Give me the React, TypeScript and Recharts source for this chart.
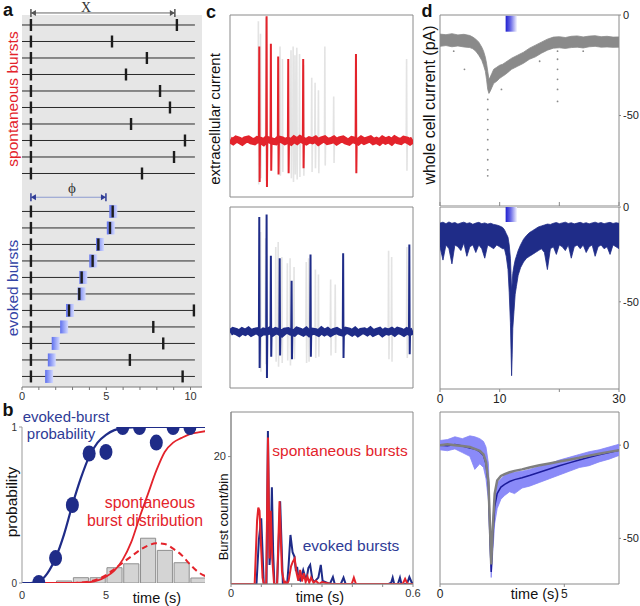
import React from 'react'
import {
  ComposedChart,
  Line,
  Area,
  Bar,
  Scatter,
  XAxis,
  YAxis,
  CartesianGrid,
  ReferenceLine,
  ReferenceArea,
  ReferenceDot,
} from 'recharts'

const FONT = 'Arial, "Liberation Sans", Helvetica, sans-serif'
const RED = '#e3232b'
const NAVY = '#1f2c88'
const BLUE_TXT = '#2e3b96'
const FRAME = '#8a8a8a'

// a: burst raster (times in s)
const spontBurstT = [9.19, 5.34, 7.41, 6.17, 8.19, 8.78, 6.47, 9.67, 9.02, 7.12]
const evokedStimT = [5.42, 5.27, 4.63, 4.23, 3.64, 3.54, 2.85, 2.5, 2.0, 1.77, 1.61]
const evokedBurstT = [[5.38], [5.22], [4.53], [4.19], [3.54], [3.4], [2.79, 10.2], [7.79], [8.38], [6.4], [9.53]]
const stimOnset = 0.53
const xArrowEnd = 9.07
const phiArrowEnd = 4.98
const rasterTicks = [0, 1, 2, 3, 4, 5, 6, 7, 8, 9, 10]

// b: probabilities
const probT = [1, 2, 3, 4, 5, 6, 7, 8, 9, 10]
const evokedProb = [0, 0.16, 0.5, 0.83, 0.84, 1, 1, 0.9, 1, 1]
const fitT = [0, 0.5, 1, 1.5, 2, 2.5, 3, 3.5, 4, 4.5, 5, 5.5, 6, 7, 8, 9, 10, 11]
const evokedFit = [0, 0, 0.01, 0.06, 0.16, 0.31, 0.5, 0.67, 0.81, 0.9, 0.95, 0.98, 0.99, 1, 1, 1, 1, 1]
const spontCdfT = [0, 3, 4, 5, 5.5, 6, 6.5, 7, 7.5, 8, 8.5, 9, 9.5, 10, 10.5, 11]
const spontCdf = [0, 0, 0.005, 0.04, 0.08, 0.15, 0.26, 0.42, 0.57, 0.72, 0.84, 0.9, 0.93, 0.955, 0.965, 0.975]
const spontPdfT = [0, 3, 4, 4.5, 5, 5.5, 6, 6.5, 7, 7.5, 8, 8.5, 9, 9.5, 10, 10.5, 11]
const spontPdf = [0, 0, 0.01, 0.025, 0.05, 0.09, 0.13, 0.17, 0.21, 0.24, 0.255, 0.25, 0.22, 0.18, 0.12, 0.07, 0.04]
const histBinT = [2.5, 3.5, 4.5, 5.5, 6.5, 7.5, 8.5, 9.5, 10.5]
const histFrac = [0.013, 0.034, 0.034, 0.098, 0.123, 0.287, 0.209, 0.13, 0.032]

// c: extracellular traces
const redNoise = [
  0.05, -0.08, 0.1, 0.02, -0.12, 0.06, 0.12, -0.04, -0.1, 0.08,
  0.02, -0.14, 0.1, 0.04, -0.06, -0.1, 0.12, 0.06, -0.08, 0.02,
  -0.12, 0.1, -0.06, 0.14, 0.02, -0.1, 0.06, -0.02, 0.1, -0.12,
  0.04, 0.12, -0.08, -0.02, 0.1, -0.1, 0.06, 0.12, -0.04, -0.12,
  0.08, 0.02, -0.1, 0.1, -0.06, 0.04, 0.12, -0.08, 0.02, -0.12,
  0.1, -0.04, 0.06, -0.1, 0.12, -0.02, -0.08, 0.1, 0.04, -0.1, 0.06,
]
const blueNoise = [
  -0.06, 0.1, 0.02, -0.12, 0.08, -0.04, 0.12, -0.1, 0.04, 0.08,
  -0.12, 0.06, -0.02, 0.12, -0.08, 0.1, 0.02, -0.14, 0.06, 0.1,
  -0.04, -0.1, 0.12, 0.04, -0.08, 0.1, -0.12, 0.06, 0.02, -0.1,
  0.12, -0.06, 0.08, -0.12, 0.02, 0.1, -0.04, -0.1, 0.12, 0.06,
  -0.08, 0.1, -0.12, 0.04, 0.08, -0.06, 0.12, -0.1, 0.02, 0.1,
  -0.12, 0.06, -0.02, 0.1, -0.08, 0.12, 0.04, -0.1, 0.08, -0.04, 0.06,
]
const noiseStep = 0.01
const redSpikeT = [0.096, 0.12, 0.134, 0.158, 0.191, 0.24, 0.413]
const redSpikeUp = [7.5, 9.9, 7.7, 6.7, 6.5, 6.5, 6.9]
const redSpikeDown = [-3.3, -3.7, -2.4, -2.7, -2.6, -2.2, -2.6]
const blueSpikeT = [0.096, 0.12, 0.134, 0.163, 0.202, 0.264, 0.371, 0.588]
const blueSpikeUp = [9.2, 9.4, 6.1, 5.9, 4.1, 6.2, 6.3, 7.0]
const blueSpikeDown = [-2.9, -3.7, -2.0, -1.9, -2.2, -2.0, -2.1, -1.8]
const ghostT1 = [0.093, 0.1, 0.118, 0.164, 0.172, 0.2, 0.207, 0.213, 0.219, 0.228, 0.241, 0.268, 0.279, 0.29, 0.311, 0.34, 0.579]
const ghostUp1 = [9.5, 8.5, 9.8, 7.5, 6.5, 7.2, 7.5, 6.8, 7.4, 6.9, 6.0, 5.0, 4.6, 4.0, 7.5, 3.5, 6.5]
const ghostDown1 = [-3.5, -3.0, -3.2, -2.8, -2.5, -3, -3.3, -2.7, -3.1, -2.9, -2.8, -2.5, -2.2, -2.6, -2.0, -1.8, -2.4]
const ghostT2 = [0.1, 0.117, 0.15, 0.158, 0.17, 0.188, 0.197, 0.21, 0.25, 0.258, 0.28, 0.29, 0.33, 0.345, 0.52, 0.53, 0.58]
const ghostUp2 = [8, 7.5, 6.8, 7.2, 6.0, 5.5, 5.9, 5.2, 5.6, 5.9, 5.0, 4.6, 4.2, 3.8, 6.5, 6.0, 6.8]
const ghostDown2 = [-3.2, -2.6, -2.4, -2.8, -2.5, -2.3, -2.7, -2.2, -2.5, -2.4, -2.1, -2, -1.9, -1.7, -2.2, -2.4, -2.1]

// c: burst histograms
const redHistT = [0, 0.078, 0.086, 0.09, 0.094, 0.099, 0.104, 0.108, 0.116, 0.122, 0.127, 0.131, 0.136, 0.142, 0.152, 0.16, 0.168, 0.176, 0.18, 0.185, 0.19, 0.198, 0.204, 0.21, 0.216, 0.222, 0.228, 0.234, 0.24, 0.246, 0.252, 0.258, 0.264, 0.272, 0.28, 0.29, 0.3, 0.33, 0.398, 0.405, 0.412, 0.5, 0.566, 0.574, 0.582, 0.6]
const redHist = [0, 0, 10, 12, 11.5, 6, 1, 0, 0, 23, 4, 11.5, 4, 0, 0, 13, 2, 0, 0.3, 0, 0.5, 2.8, 3.5, 4, 1.8, 0.5, 2.2, 0.4, 1.7, 0.3, 1.2, 0.2, 1, 0.2, 0.5, 0, 0.3, 0, 0, 1, 0, 0, 0, 0.8, 0, 0]
const blueHistT = [0, 0.084, 0.092, 0.0997, 0.104, 0.108, 0.117, 0.1217, 0.127, 0.131, 0.1348, 0.139, 0.143, 0.152, 0.162, 0.171, 0.185, 0.19, 0.196, 0.203, 0.209, 0.214, 0.218, 0.222, 0.228, 0.238, 0.248, 0.255, 0.261, 0.268, 0.274, 0.288, 0.296, 0.302, 0.326, 0.336, 0.342, 0.362, 0.371, 0.378, 0.52, 0.528, 0.533, 0.538, 0.55, 0.557, 0.562, 0.58, 0.588, 0.596, 0.6]
const blueHist = [0, 0, 7, 10.3, 5, 0, 0, 24, 3, 6, 15.2, 5, 0, 0, 13, 0, 0, 3, 7.7, 5, 4.3, 2, 2.7, 1, 0.6, 2.2, 0.5, 2.5, 3, 0.8, 0.3, 1, 3, 0.5, 0, 1.1, 0, 0, 1, 0, 0, 0.2, 1, 0, 0, 1, 0, 0, 1.1, 0.2, 0]

// d: whole cell currents (pA)
const d1T = [0, 1, 2, 3, 4, 5, 5.5, 6, 6.5, 7, 7.3, 7.6, 7.8, 8, 8.2, 8.4, 8.7, 9, 9.5, 10, 10.5, 11, 12, 13, 14, 15, 16, 17, 18, 19, 20, 21, 22, 23, 24, 25, 26, 27, 28, 29, 30]
const d1Hi = [-9.5, -9.8, -9.3, -9.9, -9.6, -10.2, -11, -12, -13.5, -16, -18, -21, -24, -28, -32, -31, -29, -27, -26, -25, -24.5, -23.5, -21.5, -20, -18.5, -16.5, -15, -13.5, -12, -11, -10.8, -11.2, -10.6, -10.4, -10.9, -10.5, -10.3, -10.8, -10.6, -11, -10.9]
const d1Lo = [-15.6, -15.2, -15.8, -15.4, -15.9, -16.2, -16.8, -18, -20, -22.5, -25, -28, -32, -37, -39, -38, -36, -34, -33, -31.5, -30.5, -29.5, -27, -25.5, -24, -22, -20.8, -19, -17.5, -16.5, -16.3, -16.6, -16.2, -16, -16.4, -15.8, -15.6, -16, -15.9, -16.1, -16]
const d1DotT = [8, 8, 8, 8, 8, 8, 8, 8, 8, 19.7, 19.7, 19.7, 19.7, 19.7, 19.7, 4.1, 10.3, 16.7, 2.3, 24]
const d1DotV = [-42, -47, -52, -57, -62, -67, -72, -77, -80, -18, -22, -27, -32, -37, -43, -27, -37, -23, -18, -18]
const d2T = [
  0, 0.5, 1, 1.5, 2, 2.5, 3, 3.5, 4, 4.5, 5, 5.5, 6, 6.5, 7, 7.5, 8, 8.5, 9, 9.5, 10, 10.5,
  10.8, 11.1, 11.4, 11.6, 11.8, 11.9, 12, 12.1, 12.2, 12.4, 12.6, 12.8, 13.1, 13.5,
  14, 14.5, 15, 15.5, 16, 16.5, 17, 17.5, 18, 18.5, 19, 19.5, 20, 20.5, 21, 21.5, 22, 22.5, 23, 23.5, 24, 24.5, 25, 25.5, 26, 26.5, 27, 27.5, 28, 28.5, 29, 29.5, 30,
]
const d2Hi = [
  -8.5, -8, -8.8, -7.9, -8.6, -8.2, -9, -8.4, -8, -8.7, -8.3, -9.1, -8.5, -8.1, -8.8, -8.4, -9, -8.6, -9.2, -9.5, -10, -10.8,
  -12, -14, -16, -20, -27, -35, -44, -40, -35, -31, -28, -26, -23, -20,
  -17, -15, -13.5, -12.5, -11.5, -10.5, -10, -9.5, -9, -9.2, -8.6, -8.2, -8.8, -8.4, -8, -8.7, -8.3, -8.9, -8.5, -8.1, -8.7, -8.3, -8.9, -8.4, -8, -8.6, -8.2, -8.8, -8.4, -8.1, -8.7, -8.3, -8.6,
]
const d2Lo = [
  -21, -28, -20, -22, -30, -20, -21, -23, -19, -26, -21, -20, -24, -20, -22, -27, -20, -21, -22, -20, -21, -22,
  -22, -26, -33, -45, -61, -75, -89, -78, -64, -55, -46, -42, -36, -32,
  -29, -27, -26, -25, -24, -23, -22, -24, -33, -22, -21, -25, -20, -21, -23, -20, -27, -21, -20, -22, -20, -24, -21, -20, -26, -21, -20, -22, -21, -25, -20, -21, -22,
]
const d3T = [0, 0.3, 0.6, 0.9, 1.2, 1.4, 1.6, 1.75, 1.85, 1.95, 2.0, 2.06, 2.12, 2.2, 2.3, 2.45, 2.6, 2.8, 3.0, 3.3, 3.6, 4.0, 4.4, 4.8, 5.2, 5.6, 6.0, 6.4, 6.8, 7.2]
const d3Spont = [0, 0.5, 0, -0.5, -1, -2, -3, -5, -9, -20, -40, -64, -45, -26, -19, -16.5, -15.5, -14.5, -13.8, -13, -12, -10.8, -9.8, -8.8, -7.8, -6.8, -5.6, -4.6, -3.6, -2.7]
const d3Evoked = [0, -0.3, 0.3, -0.5, -1.5, -2, -3.5, -5.5, -10, -22, -45, -68, -50, -33, -26, -22.5, -21, -19.5, -18.5, -17.5, -16.3, -14.5, -12.8, -11, -9.5, -8, -6.5, -5.2, -4, -2.7]
const d3Hi = [2.5, 3, 4.5, 3.5, 5, 4.5, 3.5, 2, -1, -10, -35, -62, -42, -26, -20, -18, -16, -15, -14.5, -14, -13, -11.5, -10, -8, -6.5, -5, -3.5, -2.5, -1, 0.5]
const d3Lo = [-2.5, -3, -2, -4, -6, -13, -10, -12, -18, -30, -52, -71, -58, -42, -34, -29, -27, -25, -26, -23, -22, -20, -18, -16, -14, -12, -11, -9, -7.5, -5.5]

const pts = (ts: number[], vs: number[]) => ts.map((t, i) => ({ t, v: vs[i] }))
const bandPts = (ts: number[], lo: number[], hi: number[]) => ts.map((t, i) => ({ t, band: [lo[i], hi[i]] }))
const noisePts = (vs: number[]) => vs.map((v, i) => ({ t: i * noiseStep, v }))
const spikes = (ts: number[], ups: number[], downs: number[]) =>
  ts.flatMap((t, i) => [
    { t: t - 0.0012, v: 0 },
    { t, v: ups[i] },
    { t: t + 0.0012, v: downs[i] },
    { t: t + 0.0024, v: 0 },
    { t: t + 0.0025, v: null },
  ])

const noAnim = { isAnimationActive: false, dot: false, activeDot: false } as const

const Box: React.FC<{ left: number; top: number; children: React.ReactNode }> = ({ left, top, children }) => (
  <div style={{ position: 'absolute', left, top }}>{children}</div>
)

const Txt: React.FC<{
  x: number
  y: number
  size: number
  color?: string
  rot?: boolean
  bold?: boolean
  serif?: boolean
  children: React.ReactNode
}> = ({ x, y, size, color = '#111', rot, bold, serif, children }) => (
  <div
    style={{
      position: 'absolute',
      left: x,
      top: y,
      transform: `translate(-50%, -50%)${rot ? ' rotate(-90deg)' : ''}`,
      fontSize: size,
      color,
      fontWeight: bold ? 700 : 400,
      fontFamily: serif ? '"Liberation Serif", "DejaVu Serif", serif' : FONT,
      whiteSpace: 'nowrap',
      lineHeight: 1,
    }}
  >
    {children}
  </div>
)

const stimBox = (p: any) => <rect x={p.cx - 4} y={p.cy - 6.5} width={8} height={13} fill="url(#gradA)" />
const burstMark = (p: any) => <rect x={p.cx - 1.2} y={p.cy - 6} width={2.4} height={12} fill="#1c1c1c" />
const probDot = (p: any) => <ellipse cx={p.cx} cy={p.cy} rx={6.5} ry={8} fill={NAVY} />
const tinyDot = (p: any) => <circle cx={p.cx} cy={p.cy} r={0.9} fill="#8a8a8a" />
const arrowEnd = (dir: number, color: string) => (p: any) => (
  <g>
    <line x1={p.cx} x2={p.cx} y1={p.cy - 4} y2={p.cy + 4} stroke={color} strokeWidth={1.5} />
    <path d={`M${p.cx},${p.cy} L${p.cx - dir * 5},${p.cy - 3} L${p.cx - dir * 5},${p.cy + 3} Z`} fill={color} />
  </g>
)

const EVOKED_FIRST_ROW = 12.3
const X_ARROW_ROW = 0.27
const PHI_ARROW_ROW = 11.44

const PanelA = () => {
  const spontRows = spontBurstT.map((_, i) => i + 1)
  const evokedRows = evokedStimT.map((_, i) => EVOKED_FIRST_ROW + i)
  const rows = [...spontRows, ...evokedRows]
  const onsetMarks = rows.map((v) => ({ t: stimOnset, v }))
  const spontMarks = spontBurstT.map((t, i) => ({ t, v: spontRows[i] }))
  const evokedMarks = evokedBurstT.flatMap((ts, i) => ts.map((t) => ({ t, v: evokedRows[i] })))
  const boxes = evokedStimT.map((t, i) => ({ t, v: evokedRows[i] }))
  return (
    <ComposedChart width={204} height={407} margin={{ top: 15, right: 2, bottom: 0, left: 22 }}>
      <defs>
        <linearGradient id="gradA" x1="0" y1="0" x2="1" y2="0">
          <stop offset="0" stopColor="#5e70ee" />
          <stop offset="1" stopColor="#d4daff" />
        </linearGradient>
      </defs>
      <CartesianGrid horizontal={false} vertical={false} fill="#e6e6e6" stroke="none" />
      <XAxis
        type="number"
        dataKey="t"
        domain={[0, 10.68]}
        allowDataOverflow
        ticks={rasterTicks}
        interval={0}
        tickFormatter={(v) => (v % 5 === 0 ? String(v) : '')}
        height={20}
        tickSize={3}
        axisLine={{ stroke: '#777' }}
        tickLine={{ stroke: '#777' }}
        tick={{ fontSize: 11, fill: '#333' }}
      />
      <YAxis hide type="number" dataKey="v" domain={[0.394, 22.94]} reversed allowDataOverflow />
      {rows.map((r) => (
        <ReferenceLine key={r} segment={[{ x: 0, y: r }, { x: 10.26, y: r }]} stroke="#2a2a2a" strokeWidth={1} />
      ))}
      <ReferenceLine
        segment={[{ x: stimOnset, y: X_ARROW_ROW }, { x: xArrowEnd, y: X_ARROW_ROW }]}
        stroke="#666"
        ifOverflow="visible"
      />
      <ReferenceDot x={stimOnset} y={X_ARROW_ROW} r={3} ifOverflow="visible" shape={arrowEnd(-1, '#555')} />
      <ReferenceDot x={xArrowEnd} y={X_ARROW_ROW} r={3} ifOverflow="visible" shape={arrowEnd(1, '#555')} />
      <ReferenceLine
        segment={[{ x: stimOnset, y: PHI_ARROW_ROW }, { x: phiArrowEnd, y: PHI_ARROW_ROW }]}
        stroke="#8d9bd0"
        strokeWidth={1.2}
      />
      <ReferenceDot x={stimOnset} y={PHI_ARROW_ROW} r={3} shape={arrowEnd(-1, BLUE_TXT)} />
      <ReferenceDot x={phiArrowEnd} y={PHI_ARROW_ROW} r={3} shape={arrowEnd(1, BLUE_TXT)} />
      <Scatter data={boxes} shape={stimBox} isAnimationActive={false} />
      <Scatter data={onsetMarks} shape={burstMark} isAnimationActive={false} />
      <Scatter data={spontMarks} shape={burstMark} isAnimationActive={false} />
      <Scatter data={evokedMarks} shape={burstMark} isAnimationActive={false} />
    </ComposedChart>
  )
}

const B_DOMAIN = [0, 10.9]

const PanelB = () => (
  <ComposedChart
    width={207}
    height={189}
    margin={{ top: 15, right: 2, bottom: 0, left: 0 }}
    data={pts(histBinT, histFrac)}
    barCategoryGap={0}
    barGap={0}
  >
    <XAxis
      type="number"
      dataKey="t"
      domain={B_DOMAIN}
      allowDataOverflow
      ticks={[0, 5]}
      height={18}
      axisLine={false}
      tickLine={false}
      tick={{ fontSize: 11, fill: '#333' }}
    />
    <XAxis xAxisId="bins" hide type="number" dataKey="t" domain={B_DOMAIN} allowDataOverflow />
    <YAxis
      type="number"
      dataKey="v"
      domain={[0, 1]}
      allowDataOverflow
      ticks={[0, 1]}
      width={22}
      tickSize={3}
      axisLine={{ stroke: '#999' }}
      tickLine={{ stroke: '#999' }}
      tick={{ fontSize: 10, fill: '#333' }}
    />
    <Bar xAxisId="bins" dataKey="v" barSize={17} fill="#d4d4d4" stroke="#8f8f8f" strokeWidth={1} isAnimationActive={false} />
    <Line data={pts(spontPdfT, spontPdf)} dataKey="v" type="monotone" stroke={RED} strokeWidth={2} strokeDasharray="6 4" {...noAnim} />
    <Line data={pts(spontCdfT, spontCdf)} dataKey="v" type="monotone" stroke={RED} strokeWidth={1.8} {...noAnim} />
    <Line data={pts(fitT, evokedFit)} dataKey="v" type="monotone" stroke={NAVY} strokeWidth={2.2} {...noAnim} />
    <Scatter data={pts(probT, evokedProb)} shape={probDot} isAnimationActive={false} />
  </ComposedChart>
)

const TracePanel: React.FC<{
  height: number
  color: string
  noise: number[]
  spikeT: number[]
  spikeUp: number[]
  spikeDown: number[]
  ghostT: number[]
  ghostUp: number[]
  ghostDown: number[]
}> = (p) => (
  <ComposedChart width={185} height={p.height} margin={{ top: 1, right: 1, bottom: 1, left: 1 }}>
    <XAxis hide type="number" dataKey="t" domain={[0, 0.6]} allowDataOverflow />
    <YAxis hide type="number" dataKey="v" domain={[-4.5, 10]} allowDataOverflow />
    <ReferenceArea x1={0} x2={0.6} y1={-4.5} y2={10} fill="none" stroke={FRAME} />
    <Line data={spikes(p.ghostT, p.ghostUp, p.ghostDown)} dataKey="v" stroke="#dedede" strokeWidth={1.6} strokeOpacity={0.85} {...noAnim} />
    <Line data={noisePts(p.noise)} dataKey="v" stroke={p.color} strokeWidth={7} {...noAnim} />
    <Line data={spikes(p.spikeT, p.spikeUp, p.spikeDown)} dataKey="v" stroke={p.color} strokeWidth={2} {...noAnim} />
  </ComposedChart>
)

const PanelC3 = () => (
  <ComposedChart width={212} height={196} margin={{ top: 6, right: 10, bottom: 0, left: 0 }}>
    <XAxis
      type="number"
      dataKey="t"
      domain={[0, 0.6]}
      allowDataOverflow
      ticks={[0, 0.1, 0.2, 0.3, 0.4, 0.5, 0.6]}
      interval={0}
      tickFormatter={(v) => (v === 0 ? '0' : v === 0.6 ? '0.6' : '')}
      height={18}
      tickSize={3}
      axisLine={{ stroke: FRAME }}
      tickLine={{ stroke: FRAME }}
      tick={{ fontSize: 11, fill: '#333' }}
    />
    <YAxis
      type="number"
      dataKey="v"
      domain={[0, 27]}
      allowDataOverflow
      ticks={[20]}
      width={20}
      tickSize={3}
      axisLine={{ stroke: FRAME }}
      tickLine={{ stroke: FRAME }}
      tick={{ fontSize: 11, fill: '#333' }}
    />
    <ReferenceArea x1={0} x2={0.6} y1={0} y2={27} fill="none" stroke={FRAME} />
    <Line data={pts(blueHistT, blueHist)} dataKey="v" stroke={NAVY} strokeWidth={2} {...noAnim} />
    <Line data={pts(redHistT, redHist)} dataKey="v" stroke={RED} strokeWidth={2} {...noAnim} />
  </ComposedChart>
)

const rightAxis = (domain: number[]) => (
  <YAxis
    orientation="right"
    type="number"
    dataKey="v"
    domain={domain}
    allowDataOverflow
    ticks={[0, -50]}
    width={21}
    tickSize={2}
    axisLine={false}
    tickLine={{ stroke: FRAME }}
    tick={{ fontSize: 11, fill: '#222' }}
  />
)

const stimGrad = (id: string) => (
  <defs>
    <linearGradient id={id} x1="0" y1="0" x2="1" y2="0">
      <stop offset="0" stopColor="#1f1fcf" />
      <stop offset="0.45" stopColor="#6b6be6" />
      <stop offset="1" stopColor="#f4f4ff" />
    </linearGradient>
  </defs>
)

const D_MARGIN_LEFT = 11

const PanelD1 = () => (
  <ComposedChart width={211} height={202} margin={{ top: 11, right: 0, bottom: 0, left: D_MARGIN_LEFT }} data={bandPts(d1T, d1Lo, d1Hi)}>
    {stimGrad('gradD1')}
    <XAxis
      type="number"
      dataKey="t"
      domain={[0, 30]}
      allowDataOverflow
      ticks={[0, 10, 20, 30]}
      tickFormatter={() => ''}
      height={8}
      tickSize={4}
      mirror
      axisLine={false}
      tickLine={{ stroke: FRAME }}
    />
    {rightAxis([-95, 0])}
    <ReferenceArea x1={0} x2={30} y1={-95} y2={0} fill="none" stroke={FRAME} />
    <ReferenceArea x1={11} x2={12.9} y1={-8.3} y2={-0.4} fill="url(#gradD1)" fillOpacity={1} />
    <Area type="linear" dataKey="band" stroke="#8a8a8a" strokeWidth={0.8} fill="#8a8a8a" fillOpacity={1} isAnimationActive={false} />
    <Scatter data={pts(d1DotT, d1DotV)} shape={tinyDot} isAnimationActive={false} />
  </ComposedChart>
)

const PanelD2 = () => (
  <ComposedChart width={211} height={211} margin={{ top: 11, right: 0, bottom: 0, left: D_MARGIN_LEFT }} data={bandPts(d2T, d2Lo, d2Hi)}>
    {stimGrad('gradD2')}
    <XAxis
      type="number"
      dataKey="t"
      domain={[0, 30]}
      allowDataOverflow
      ticks={[0, 10, 20, 30]}
      interval={0}
      tickFormatter={(v) => (v === 20 ? '' : String(v))}
      height={18}
      tickSize={3}
      axisLine={false}
      tickLine={{ stroke: FRAME }}
      tick={{ fontSize: 12, fill: '#222' }}
    />
    {rightAxis([-96, 0])}
    <ReferenceArea x1={0} x2={30} y1={-96} y2={0} fill="none" stroke={FRAME} />
    <ReferenceArea x1={11} x2={12.9} y1={-7.9} y2={0} fill="url(#gradD2)" fillOpacity={1} />
    <Area type="linear" dataKey="band" stroke={NAVY} strokeWidth={0.8} fill={NAVY} fillOpacity={1} isAnimationActive={false} />
  </ComposedChart>
)

const PanelD3 = () => {
  const data = d3T.map((t, i) => ({ t, band: [d3Lo[i], d3Hi[i]], spont: d3Spont[i], evoked: d3Evoked[i] }))
  return (
    <ComposedChart width={211} height={191} margin={{ top: 1, right: 0, bottom: 0, left: D_MARGIN_LEFT }} data={data}>
      <XAxis
        type="number"
        dataKey="t"
        domain={[0, 7.2]}
        allowDataOverflow
        ticks={[0, 5]}
        height={18}
        tickSize={3}
        axisLine={false}
        tickLine={{ stroke: FRAME }}
        tick={{ fontSize: 12, fill: '#222' }}
      />
      {rightAxis([-74.5, 17.8])}
      <ReferenceArea x1={0} x2={7.2} y1={-74.5} y2={17.8} fill="none" stroke={FRAME} />
      <Area type="linear" dataKey="band" stroke="#8585f5" strokeWidth={0.8} fill="#8a8af8" fillOpacity={1} isAnimationActive={false} />
      <Line dataKey="evoked" type="linear" stroke="#1c1c9a" strokeWidth={1.5} {...noAnim} />
      <Line dataKey="spont" type="linear" stroke="#7f7f7f" strokeWidth={2.5} {...noAnim} />
    </ComposedChart>
  )
}

export default function App() {
  return (
    <div
      style={{
        position: 'fixed',
        left: 0,
        top: 0,
        width: 640,
        height: 606,
        background: '#fff',
        fontFamily: FONT,
        overflow: 'hidden',
      }}
    >
      <Box left={0} top={0}><PanelA /></Box>
      <Box left={0} top={412}><PanelB /></Box>
      <Box left={229} top={14}>
        <TracePanel
          height={184}
          color={RED}
          noise={redNoise}
          spikeT={redSpikeT}
          spikeUp={redSpikeUp}
          spikeDown={redSpikeDown}
          ghostT={ghostT1}
          ghostUp={ghostUp1}
          ghostDown={ghostDown1}
        />
      </Box>
      <Box left={229} top={206}>
        <TracePanel
          height={183}
          color={NAVY}
          noise={blueNoise}
          spikeT={blueSpikeT}
          spikeUp={blueSpikeUp}
          spikeDown={blueSpikeDown}
          ghostT={ghostT2}
          ghostUp={ghostUp2}
          ghostDown={ghostDown2}
        />
      </Box>
      <Box left={211} top={406}><PanelC3 /></Box>
      <Box left={429} top={4}><PanelD1 /></Box>
      <Box left={429} top={196}><PanelD2 /></Box>
      <Box left={429} top={411}><PanelD3 /></Box>

      <Txt x={8} y={10} size={18} bold>a</Txt>
      <Txt x={86} y={8} size={14} color="#333" serif>X</Txt>
      <Txt x={72} y={188} size={15} color="#333" serif>ϕ</Txt>
      <Txt x={13} y={99} size={15.5} color={RED} rot>spontaneous bursts</Txt>
      <Txt x={13} y={288} size={15.5} color="#3344a6" rot>evoked bursts</Txt>

      <Txt x={8} y={410} size={18} bold>b</Txt>
      <Txt x={66} y={416} size={15} color={BLUE_TXT}>evoked-burst</Txt>
      <Txt x={61} y={433} size={15} color={BLUE_TXT}>probability</Txt>
      <Txt x={12} y={502} size={15.5} rot>probability</Txt>
      <Txt x={150} y={503} size={15.8} color={RED}>spontaneous</Txt>
      <Txt x={145} y={521} size={15.8} color={RED}>burst distribution</Txt>
      <Txt x={157} y={598} size={14.5}>time (s)</Txt>

      <Txt x={211} y={12} size={18} bold>c</Txt>
      <Txt x={214} y={119} size={15} rot>extracellular current</Txt>
      <Txt x={223} y={517} size={13} rot>Burst count/bin</Txt>
      <Txt x={340} y={451} size={15.5} color={RED}>spontaneous bursts</Txt>
      <Txt x={351} y={546} size={15.5} color={BLUE_TXT}>evoked bursts</Txt>
      <Txt x={320} y={597} size={14.5}>time (s)</Txt>

      <Txt x={427} y={11} size={18} bold>d</Txt>
      <Txt x={430} y={105} size={16} rot>whole cell current (pA)</Txt>
      <Txt x={535} y={594} size={14.5}>time (s)</Txt>
    </div>
  )
}
